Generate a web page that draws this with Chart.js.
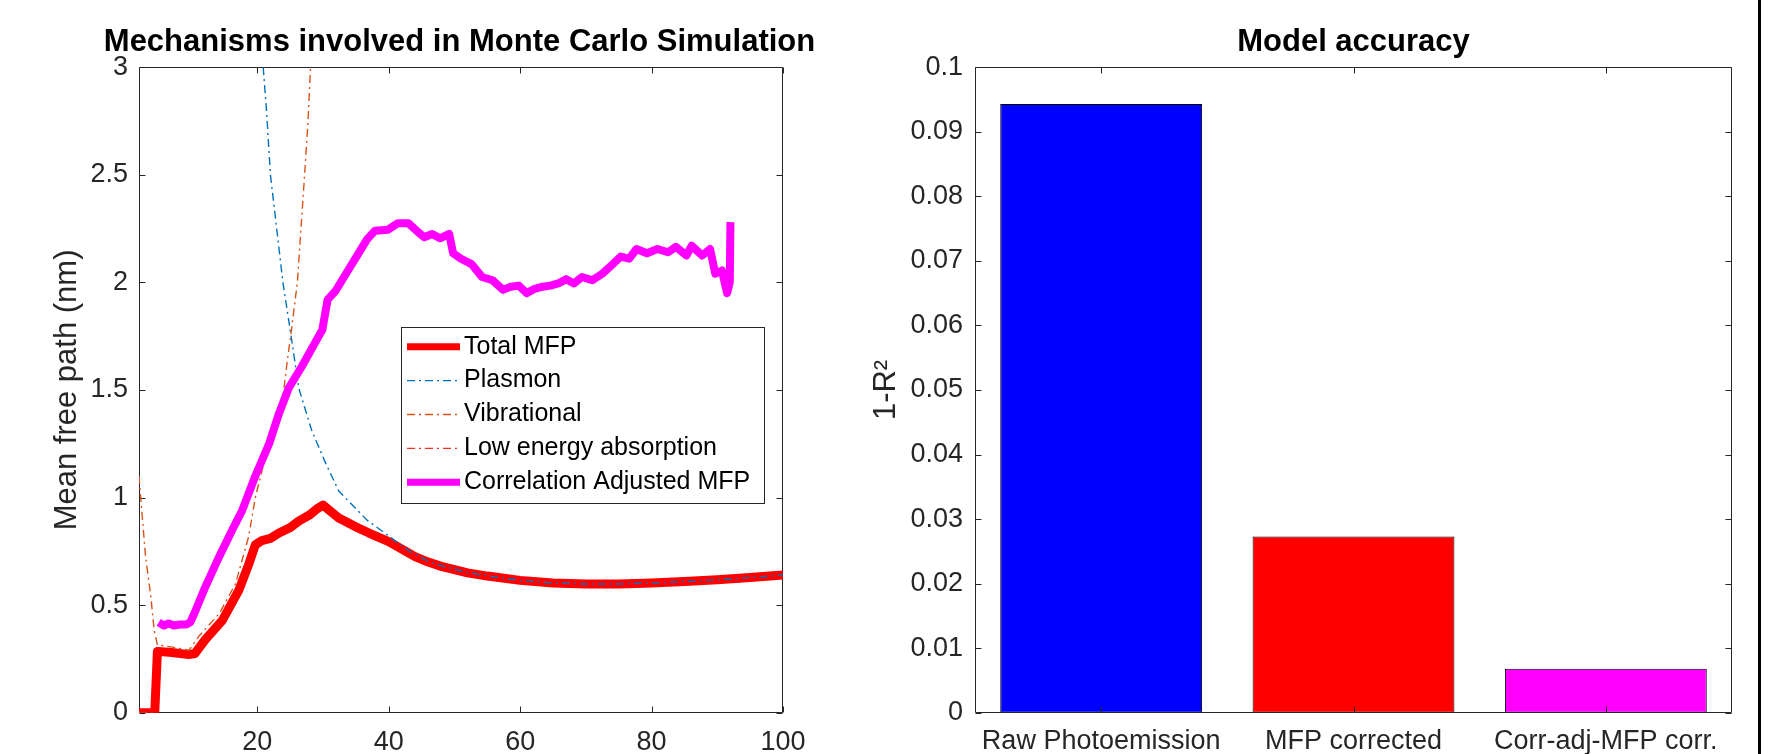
<!DOCTYPE html>
<html>
<head>
<meta charset="utf-8">
<title>Monte Carlo MFP</title>
<script src="https://cdn.jsdelivr.net/npm/chart.js@4/dist/chart.umd.min.js"></script>
<style>
  html, body { margin: 0; padding: 0; background: #fff; overflow: hidden; }
  #wrap { position: relative; width: 1771px; height: 754px; overflow: hidden; }
  #left { position: absolute; left: 0; top: 0; }
  #right { position: absolute; left: 860px; top: 0; }
  #edge { position: absolute; left: 1758px; top: 0; width: 3px; height: 754px; background: #000; }
</style>
</head>
<body>
<div id="wrap">
  <canvas id="left" width="919" height="800"></canvas>
  <canvas id="right" width="911" height="800"></canvas>
  <div id="edge"></div>
</div>
<script>
// --- dati ---
const xTotal = [2, 4.4, 4.8, 7, 9.6, 10.5, 12.1, 14.7, 17.2, 18.7, 19.7, 20.7, 22, 23.3, 25, 26.3, 28, 29.2, 30, 31, 32.4, 34.9, 37, 40, 42, 44, 46, 48, 50, 52, 55, 60, 65, 70, 75, 80, 85, 90, 95, 100];
const yTotal = [0, 0, 0.285, 0.28, 0.27, 0.275, 0.34, 0.43, 0.57, 0.69, 0.78, 0.80, 0.81, 0.835, 0.86, 0.89, 0.92, 0.95, 0.965, 0.94, 0.905, 0.865, 0.835, 0.795, 0.76, 0.725, 0.70, 0.68, 0.665, 0.65, 0.635, 0.615, 0.603, 0.598, 0.598, 0.603, 0.61, 0.618, 0.628, 0.64];

const xPlasmon = [20.9, 21.4, 22.0, 23.9, 25.1, 26.3, 28.3, 30.4, 32.4, 36.7, 40.2, 42, 44, 46, 48, 50, 52, 55, 60, 65, 70, 75, 80, 85, 90, 95, 100];
const yPlasmon = [3.0, 2.8, 2.5, 2.0, 1.76, 1.51, 1.31, 1.16, 1.03, 0.895, 0.817, 0.775, 0.735, 0.705, 0.683, 0.667, 0.652, 0.636, 0.615, 0.603, 0.598, 0.598, 0.603, 0.61, 0.618, 0.628, 0.64];

const xVib = [2, 2.5, 3.0, 3.8, 4.3, 4.8, 7.1, 9.6, 11.1, 14.2, 16.7, 18.7, 19.7, 21.0, 22.3, 23.8, 24.5, 25.2, 26.1, 27.2, 27.7, 28.1];
const yVib = [1.10, 0.91, 0.725, 0.54, 0.385, 0.315, 0.305, 0.29, 0.355, 0.46, 0.60, 0.82, 1.0, 1.16, 1.30, 1.44, 1.62, 1.78, 2.0, 2.5, 2.74, 3.0];

const xLowE = [2, 3, 4.4];
const yLowE = [0, 0, 0];

const xCorr = [5.0, 5.8, 6.5, 7.3, 8.2, 9.2, 9.8, 10.4, 12.1, 14.2, 16.2, 17.7, 19.7, 21.8, 23.3, 24.8, 26.8, 28.8, 29.9, 30.7, 31.9, 33.5, 35.1, 36.7, 37.9, 39.9, 41.4, 43.0, 44.6, 45.4, 46.6, 47.8, 49.2, 49.8, 51.0, 52.6, 54.2, 55.8, 57.4, 58.6, 59.8, 61.0, 62.2, 63.4, 64.6, 65.8, 67.0, 68.2, 69.4, 71.0, 72.5, 74.1, 75.3, 76.6, 77.7, 79.3, 80.9, 82.5, 83.7, 85.3, 86.1, 87.7, 88.9, 89.7, 90.7, 91.5, 91.9, 92.0];
const yCorr = [0.42, 0.405, 0.415, 0.405, 0.41, 0.41, 0.42, 0.46, 0.585, 0.725, 0.85, 0.94, 1.10, 1.25, 1.39, 1.51, 1.61, 1.72, 1.78, 1.92, 1.96, 2.04, 2.12, 2.20, 2.24, 2.245, 2.275, 2.275, 2.23, 2.21, 2.225, 2.205, 2.225, 2.135, 2.11, 2.085, 2.025, 2.01, 1.965, 1.98, 1.985, 1.95, 1.97, 1.98, 1.985, 1.995, 2.015, 1.995, 2.025, 2.01, 2.04, 2.085, 2.12, 2.11, 2.155, 2.135, 2.155, 2.14, 2.165, 2.125, 2.17, 2.125, 2.155, 2.04, 2.055, 1.95, 2.0, 2.28];

const xTicksLeft = [20, 40, 60, 80, 100];
const yTicksLeft = [0, 0.5, 1, 1.5, 2, 2.5, 3];

const barLabels = ['Raw Photoemission', 'MFP corrected', 'Corr-adj-MFP corr.'];
const barValues = [0.0943, 0.0273, 0.0068];
const barColors = ['#0000ff', '#ff0000', '#ff00ff'];
const yTicksRight = [0, 0.01, 0.02, 0.03, 0.04, 0.05, 0.06, 0.07, 0.08, 0.09, 0.1];

const pts = (xs, ys) => xs.map((x, i) => ({ x, y: ys[i] }));

const FONT = '"Liberation Sans", Arial, Helvetica, sans-serif';
Chart.defaults.font.family = FONT;
Chart.defaults.color = '#262626';

// cornice e tacche verso l'interno, come in MATLAB
function drawFrame(chart) {
  const { ctx, chartArea: a, scales: { x, y } } = chart;
  const t = 6;
  const L = Math.round(a.left) + 0.5, R = Math.round(a.right) - 0.5;
  const T = Math.round(a.top) + 0.5, B = Math.round(a.bottom) - 0.5;
  ctx.save();
  ctx.strokeStyle = '#262626';
  ctx.lineWidth = 1;
  ctx.beginPath();
  ctx.rect(L, T, R - L, B - T);
  x.ticks.forEach((tk, i) => {
    const px = Math.round(x.getPixelForTick(i)) + 0.5;
    ctx.moveTo(px, B); ctx.lineTo(px, B - t);
    ctx.moveTo(px, T); ctx.lineTo(px, T + t);
  });
  y.ticks.forEach((tk, i) => {
    const py = Math.round(y.getPixelForTick(i)) + 0.5;
    ctx.moveTo(L, py); ctx.lineTo(L + t, py);
    ctx.moveTo(R, py); ctx.lineTo(R - t, py);
  });
  ctx.stroke();
  ctx.restore();
}

const frame = {
  id: 'frame',
  beforeDatasetsDraw(chart, args, opts) { if (!opts.onTop) drawFrame(chart); },
  afterDatasetsDraw(chart, args, opts) { if (opts.onTop) drawFrame(chart); }
};

// legenda dentro l'area del grafico
const boxLegend = {
  id: 'boxLegend',
  afterDatasetsDraw(chart, args, opts) {
    const { ctx, chartArea: a } = chart;
    const x0 = Math.round(a.left + opts.dx), y0 = Math.round(a.top + opts.dy);
    ctx.save();
    ctx.fillStyle = '#fff';
    ctx.fillRect(x0, y0, opts.w, opts.h);
    ctx.strokeStyle = '#262626';
    ctx.lineWidth = 1;
    ctx.strokeRect(x0 + 0.5, y0 + 0.5, opts.w, opts.h);
    ctx.font = '25px ' + FONT;
    ctx.textBaseline = 'middle';
    chart.data.datasets.forEach((ds, i) => {
      const cy = y0 + opts.first + i * opts.step;
      ctx.save();
      ctx.strokeStyle = ds.borderColor;
      ctx.lineWidth = Math.min(ds.borderWidth, 7);
      ctx.setLineDash(ds.borderDash || []);
      ctx.beginPath();
      ctx.moveTo(x0 + 6, cy);
      ctx.lineTo(x0 + 59, cy);
      ctx.stroke();
      ctx.restore();
      ctx.fillStyle = '#000';
      ctx.fillText(ds.label, x0 + 63, cy);
    });
    ctx.restore();
  }
};

const dashDot = [8, 4, 2, 4];

new Chart(document.getElementById('left'), {
  type: 'line',
  data: {
    datasets: [
      { label: 'Total MFP', data: pts(xTotal, yTotal), borderColor: '#ff0000', borderWidth: 9, order: 5 },
      { label: 'Plasmon', data: pts(xPlasmon, yPlasmon), borderColor: '#0072bd', borderWidth: 1.4, borderDash: dashDot, order: 4 },
      { label: 'Vibrational', data: pts(xVib, yVib), borderColor: '#d95319', borderWidth: 1.4, borderDash: dashDot, order: 3 },
      { label: 'Low energy absorption', data: pts(xLowE, yLowE), borderColor: '#f0301e', borderWidth: 1.4, borderDash: dashDot, order: 2 },
      { label: 'Correlation Adjusted MFP', data: pts(xCorr, yCorr), borderColor: '#ff00ff', borderWidth: 8, order: 1 }
    ]
  },
  options: {
    responsive: false,
    animation: false,
    events: [],
    layout: { padding: 0 },
    elements: {
      point: { radius: 0 },
      line: { tension: 0, borderJoinStyle: 'round', fill: false }
    },
    scales: {
      x: {
        type: 'linear', min: 2, max: 100,
        afterBuildTicks: s => { s.ticks = xTicksLeft.map(v => ({ value: v })); },
        afterFit: s => { s.height = 87.3; },
        grid: { display: false, drawTicks: false },
        border: { display: false },
        ticks: { font: { size: 27 }, padding: 14, maxRotation: 0, autoSkip: false, callback: v => String(v) }
      },
      y: {
        type: 'linear', min: 0, max: 3,
        afterBuildTicks: s => { s.ticks = yTicksLeft.map(v => ({ value: v })); },
        afterFit: s => { s.width = 139; },
        grid: { display: false, drawTicks: false },
        border: { display: false },
        ticks: { font: { size: 27 }, padding: 11, autoSkip: false, callback: v => String(v) },
        title: { display: true, text: 'Mean free path (nm)', font: { size: 31 }, padding: { top: 49, bottom: 0 } }
      },
      // spazio vuoto a destra, così il titolo resta centrato come nell'originale
      spacer: {
        type: 'linear', position: 'right', display: true,
        afterFit: s => { s.width = 136; },
        grid: { display: false, drawTicks: false },
        border: { display: false },
        ticks: { display: false }
      }
    },
    plugins: {
      legend: { display: false },
      tooltip: { enabled: false },
      title: {
        display: true, fullSize: true, text: 'Mechanisms involved in Monte Carlo Simulation',
        color: '#000', font: { size: 31, weight: 'bold' }, padding: { top: 24, bottom: 6 }
      },
      frame: { onTop: false },
      boxLegend: { dx: 262, dy: 260, w: 363, h: 176, first: 19.7, step: 33.9 }
    }
  },
  plugins: [frame, boxLegend]
});

new Chart(document.getElementById('right'), {
  type: 'bar',
  data: {
    labels: barLabels,
    datasets: [{
      label: '1-R²',
      data: barValues,
      backgroundColor: barColors,
      borderColor: '#000',
      borderWidth: 1,
      borderSkipped: false,
      barPercentage: 0.8,
      categoryPercentage: 1
    }]
  },
  options: {
    responsive: false,
    animation: false,
    events: [],
    layout: { padding: { left: 0, top: 0, right: 39, bottom: 0 } },
    scales: {
      x: {
        type: 'category', offset: true,
        afterFit: s => { s.height = 87.3; },
        grid: { display: false, drawTicks: false },
        border: { display: false },
        ticks: { font: { size: 27 }, padding: 13, maxRotation: 0, autoSkip: false }
      },
      y: {
        type: 'linear', min: 0, max: 0.1,
        afterBuildTicks: s => { s.ticks = yTicksRight.map(v => ({ value: v })); },
        afterFit: s => { s.width = 115; },
        grid: { display: false, drawTicks: false },
        border: { display: false },
        ticks: { font: { size: 27 }, padding: 12, autoSkip: false, callback: v => String(v) },
        title: { display: true, text: '1-R²', font: { size: 31 }, padding: { top: 8, bottom: 0 } }
      }
    },
    plugins: {
      legend: { display: false },
      tooltip: { enabled: false },
      title: {
        display: true, fullSize: false, text: 'Model accuracy',
        color: '#000', font: { size: 31, weight: 'bold' }, padding: { top: 24, bottom: 6 }
      },
      frame: { onTop: true }
    }
  },
  plugins: [frame]
});
</script>
</body>
</html>
